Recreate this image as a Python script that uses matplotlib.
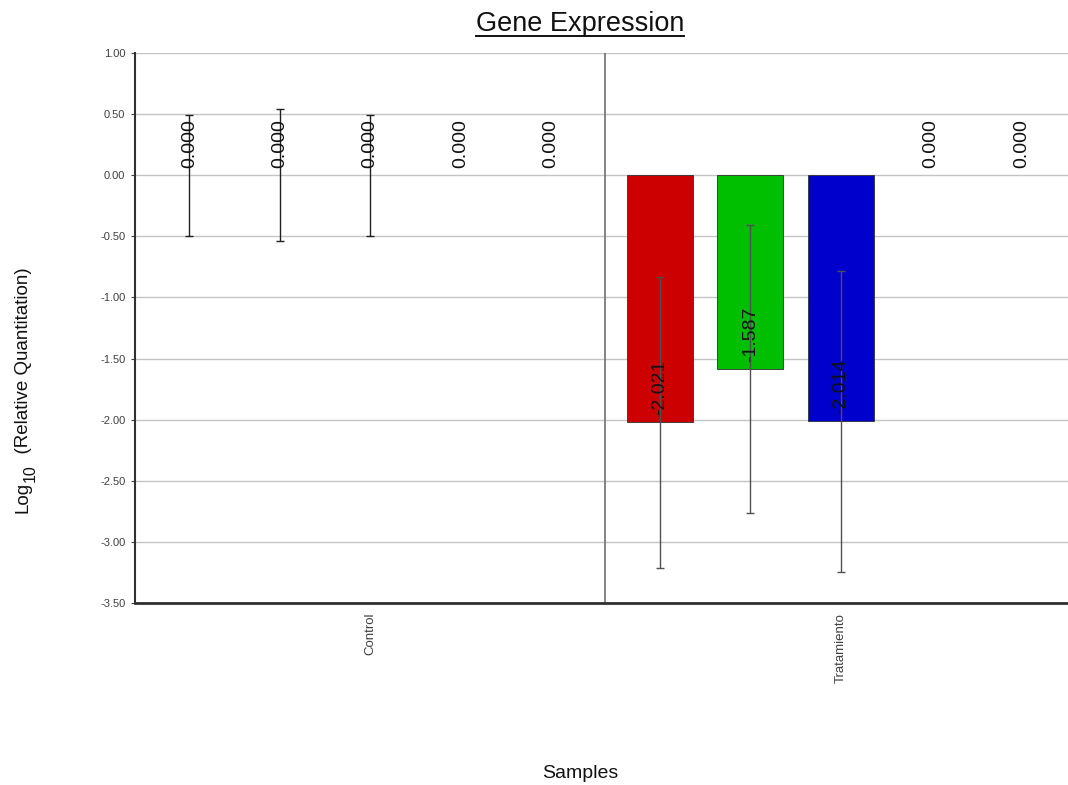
import matplotlib
matplotlib.use("Agg")
import matplotlib.pyplot as plt
import numpy as np

# Samples and their log10 relative quantitation per target
groups = ["Control", "Tratamiento"]
bars_per_group = 5
log_rq = [0.000, 0.000, 0.000, 0.000, 0.000,
          -2.021, -1.587, -2.014, 0.000, 0.000]
rq_err = [0.495, 0.54, 0.495, np.nan, np.nan,
          1.19, 1.18, 1.23, np.nan, np.nan]
bar_colors = ["none", "none", "none", "none", "none",
              "#CC0000", "#00BF00", "#0000CC", "none", "none"]
err_colors = ["#202020"] * 5 + ["#505050"] * 5
y_ticks = [1.00, 0.50, 0.00, -0.50, -1.00, -1.50, -2.00, -2.50, -3.00, -3.50]

plt.rcParams["font.family"] = ["Liberation Sans", "DejaVu Sans"]

fig = plt.figure(figsize=(10.68, 7.85), dpi=100)
ax = fig.add_axes([0.1264, 0.2318, 0.881, 0.7006])

gap = 1.2
pad = 0.6
stride = (bars_per_group - 1) + gap
xs = np.array([g * stride + i for g in range(len(groups))
               for i in range(bars_per_group)])

# horizontal grid
for yv in y_ticks:
    ax.axhline(yv, color="#C4C4C4", lw=1.0, zorder=0)

for x, v, c in zip(xs, log_rq, bar_colors):
    if c != "none":
        ax.bar(x, v, width=0.73, color=c, edgecolor="#303030", lw=0.6, zorder=2)

for x, v, e, ec in zip(xs, log_rq, rq_err, err_colors):
    if not np.isnan(e):
        ax.errorbar(x, v, yerr=e, fmt="none", ecolor=ec, elinewidth=1.0,
                    capsize=3, capthick=1.0, zorder=3)

for x, v in zip(xs, log_rq):
    ax.annotate(f"{v:.3f}", xy=(x, v), xytext=(0, 5), textcoords="offset points",
                rotation=90, ha="center", va="bottom", fontsize=14,
                color="#111111", zorder=4)

# group separators and group labels
centers = []
for g in range(len(groups)):
    start = g * stride - pad
    end = start + (bars_per_group - 1) + 2 * pad
    centers.append((start + end) / 2)
    if g > 0:
        ax.axvline(start, color="#707070", lw=1.2, zorder=1)

ax.set_xlim(-pad, (len(groups) - 1) * stride + bars_per_group - 1 + pad)
ax.set_ylim(-3.5, 1.0)
ax.set_yticks(y_ticks)
ax.set_yticklabels([f"{t:.2f}" for t in y_ticks], fontsize=8, color="#404040")
ax.set_xticks(centers)
ax.set_xticklabels(groups, rotation=90, fontsize=9.5, color="#404040", va="top")
ax.tick_params(axis="x", length=0, pad=7)
ax.tick_params(axis="y", length=3, width=0.8, pad=4, color="#404040")

for s in ["top", "right"]:
    ax.spines[s].set_visible(False)
ax.spines["left"].set_linewidth(1.5)
ax.spines["left"].set_color("#303030")
ax.spines["bottom"].set_linewidth(2.0)
ax.spines["bottom"].set_color("#303030")

title = fig.text(0.543, 0.969, "Gene Expression", ha="center", va="center",
                 fontsize=19.5, color="#111111")
fig.canvas.draw()
renderer = fig.canvas.get_renderer()
inv = fig.transFigure.inverted()

# underline under the title
bb = title.get_window_extent(renderer)
(x0, y0), (x1, y1) = inv.transform([[bb.x0, bb.y0], [bb.x1, bb.y1]])
fig.add_artist(plt.Line2D([x0, x1], [y0 + 0.002, y0 + 0.002], color="#111111",
                          lw=1.4, transform=fig.transFigure))

# y-axis label built from pieces so the subscript stays large
ylab_x = 0.022
ylab_bottom = 1 - 513 / 785
pieces = [("Log", 0.0, 13.5), ("10", -0.0065, 11.5), ("  (Relative Quantitation)", 0.0, 13.5)]
ypos = ylab_bottom
for txt, dx, fs in pieces:
    t = fig.text(ylab_x - dx, ypos, txt, rotation=90, ha="center", va="bottom",
                 fontsize=fs, color="#111111", rotation_mode="anchor")
    t.set_ha("left")
    t.set_va("center")
    fig.canvas.draw()
    tb = t.get_window_extent(renderer)
    ypos += tb.height / fig.bbox.height

fig.text(0.543, 0.015, "Samples", ha="center", va="center",
         fontsize=14, color="#111111")

fig.savefig("out.png", dpi=100)
